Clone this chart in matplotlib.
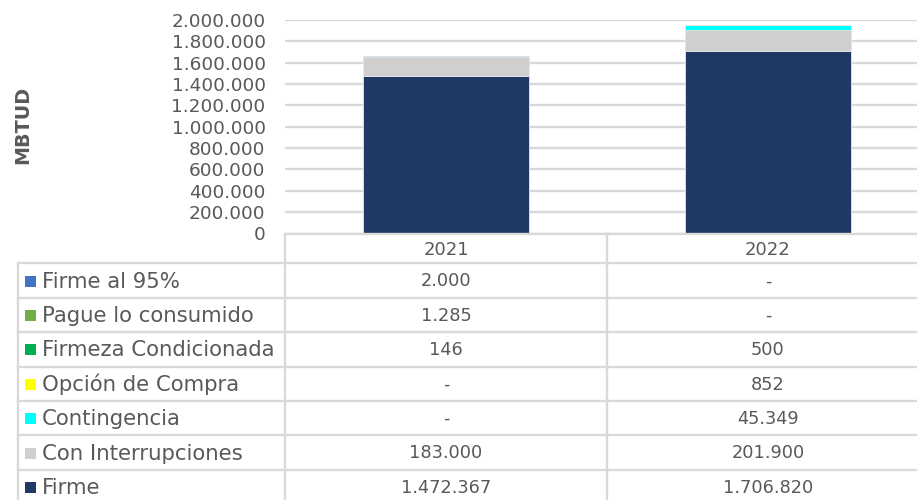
import matplotlib.pyplot as plt
import numpy as np

plt.rcParams["font.family"] = ["DejaVu Sans"]

years = ["2021", "2022"]
# stacked bottom -> top
series = [
    "Firme",
    "Con Interrupciones",
    "Contingencia",
    "Opción de Compra",
    "Firmeza Condicionada",
    "Pague lo consumido",
    "Firme al 95%",
]
firme = [1472367, 1706820]
con_interrupciones = [183000, 201900]
contingencia = [0, 45349]
opcion_compra = [0, 852]
firmeza_condicionada = [146, 500]
pague_consumido = [1285, 0]
firme_95 = [2000, 0]
values = [firme, con_interrupciones, contingencia, opcion_compra,
          firmeza_condicionada, pague_consumido, firme_95]
colors = ["#1F3864", "#D0CECE", "#00FFFF", "#FFFF00", "#00B050", "#70AD47", "#4472C4"]

W, H = 917, 500
GRID = "#D9D9D9"
TXT = "#595959"


def fmt(v):
    if v == 0:
        return "-"
    return f"{v:,.0f}".replace(",", ".")


fig = plt.figure(figsize=(W / 100, H / 100), dpi=100)

# chart area in pixels
x0, x1 = 285, 917
y_top, y_bot = 20, 233.5
cat_w = 322
ax = fig.add_axes([x0 / W, (H - y_bot) / H, (x1 - x0) / W, (y_bot - y_top) / H])

x = np.arange(len(years))
bottom = np.zeros(len(years))
for name, vals, c in zip(series, values, colors):
    ax.bar(x, vals, width=166 / cat_w, bottom=bottom, color=c,
           edgecolor="#E6E6E6", linewidth=0.6, zorder=3)
    bottom += np.array(vals)

ax.set_ylim(0, 2000000)
ax.set_xlim(-0.5, -0.5 + (x1 - x0) / cat_w)
ax.set_yticks(np.arange(0, 2000001, 200000))
ax.set_yticklabels([fmt(v) if v else "0" for v in np.arange(0, 2000001, 200000)])
ax.tick_params(axis="y", length=0, pad=14, labelsize=13.3, labelcolor=TXT)
ax.set_xticks([])
ax.grid(axis="y", color=GRID, linewidth=1.7, zorder=0)
for s in ax.spines.values():
    s.set_visible(False)
ax.set_ylabel("MBTUD", fontsize=13.8, fontweight="bold", color=TXT, labelpad=0)
ax.yaxis.set_label_coords((32 - x0) / (x1 - x0), 0.51)

# data table drawn in pixel coordinates
tab = fig.add_axes([0, 0, 1, 1])
tab.set_xlim(0, W)
tab.set_ylim(H, 0)
tab.axis("off")

lc = dict(color=GRID, linewidth=1.7)
head_top, head_bot = 234, 263.3
row_h = 34.4
col_edges = [285, 607, 929]
n_rows = len(series)
table_bot = head_bot + n_rows * row_h

tab.plot([285, W], [head_top, head_top], **lc)
tab.plot([18, W], [head_bot, head_bot], **lc)
for i in range(1, n_rows + 1):
    yy = head_bot + i * row_h
    tab.plot([18, W], [yy, yy], **lc)
tab.plot([18, 18], [head_bot, table_bot], **lc)
for xe in col_edges:
    tab.plot([xe, xe], [head_top, table_bot], **lc)

for j, yr in enumerate(years):
    cx = (col_edges[j] + col_edges[j + 1]) / 2
    tab.text(cx, (head_top + head_bot) / 2 + 1, yr, ha="center", va="center",
             fontsize=13, color=TXT)

# table rows listed top -> bottom (reverse of stack order)
for i, k in enumerate(range(n_rows - 1, -1, -1)):
    cy = head_bot + (i + 0.5) * row_h + 1
    tab.add_patch(plt.Rectangle((25, cy - 6), 11, 11, color=colors[k], lw=0))
    tab.text(42, cy, series[k], ha="left", va="center", fontsize=15.3, color=TXT)
    for j in range(len(years)):
        cx = (col_edges[j] + col_edges[j + 1]) / 2
        tab.text(cx, cy, fmt(values[k][j]), ha="center", va="center",
                 fontsize=12.8, color=TXT)

fig.savefig("out.png", dpi=100)
